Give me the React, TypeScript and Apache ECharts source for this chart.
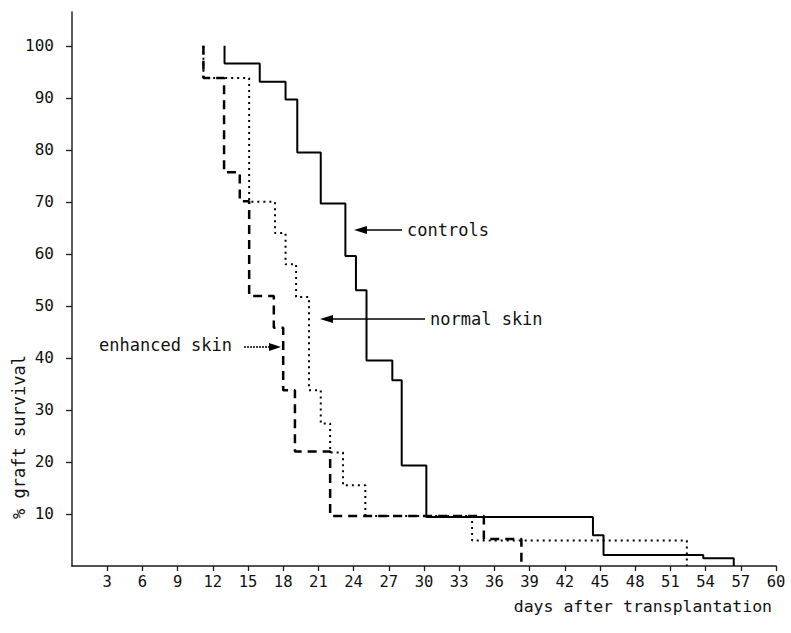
import React, { useEffect, useRef } from "react";
import * as echarts from "echarts";

// Kaplan-Meier style graft survival curves
const controlsDays = [13, 13, 16, 18.2, 19.2, 21.2, 23.3, 24.2, 25.1, 27.3, 28.1, 30.2, 44.4, 45.3, 53.8, 56.4];
const controlsSurvival = [100, 96.6, 93.1, 89.7, 79.5, 69.7, 59.6, 53, 39.5, 35.7, 19.3, 9.4, 5.9, 2.1, 1.5, 0];

const normalDays = [11.2, 11.2, 15.1, 17.3, 18.2, 19.1, 20.2, 21.2, 22, 23.1, 25, 34.1, 52.4];
const normalSurvival = [100, 93.8, 70, 64, 58, 51.7, 33.8, 27.4, 21.8, 15.5, 9.6, 4.9, 0];

const enhancedDays = [11.2, 11.2, 12.96, 14.3, 15.1, 17.2, 18, 19, 22, 35.1, 38.3];
const enhancedSurvival = [100, 93.8, 75.7, 70.1, 51.9, 45.8, 33.8, 22, 9.6, 5.2, 0];

const xTickValues = [3, 6, 9, 12, 15, 18, 21, 24, 27, 30, 33, 36, 39, 42, 45, 48, 51, 54, 57, 60];
const yTickValues = [10, 20, 30, 40, 50, 60, 70, 80, 90, 100];

const MONO = '"DejaVu Sans Mono", monospace';

export default function App() {
  const ref = useRef<HTMLDivElement>(null);

  useEffect(() => {
    if (!ref.current) return;
    const chart = echarts.init(ref.current, undefined, { renderer: "svg" });
    const pairs = (xs: number[], ys: number[]) => xs.map((x, i) => [x, ys[i]]);

    chart.setOption({
      animation: false,
      backgroundColor: "#fff",
      grid: { left: 72, right: 15, top: 12, bottom: 67 },
      xAxis: {
        type: "value",
        min: 0,
        max: 60,
        interval: 3,
        splitLine: { show: false },
        axisLine: { show: true, onZero: true, lineStyle: { color: "#1a1a1a", width: 1.6 } },
        axisTick: { show: true, length: 5, customValues: xTickValues, lineStyle: { color: "#1a1a1a", width: 1.3 } },
        axisLabel: { customValues: xTickValues, color: "#111", fontFamily: MONO, fontSize: 15.5, margin: 8 },
      },
      yAxis: {
        type: "value",
        min: 0,
        max: 106.5,
        interval: 10,
        splitLine: { show: false },
        axisLine: { show: true, lineStyle: { color: "#333", width: 1.6 } },
        axisTick: { show: true, length: 6, customValues: yTickValues, lineStyle: { color: "#1a1a1a", width: 1.3 } },
        axisLabel: { customValues: yTickValues, color: "#111", fontFamily: MONO, fontSize: 16, margin: 18 },
      },
      series: [
        {
          name: "normal skin",
          type: "line",
          step: "end",
          symbol: "none",
          data: pairs(normalDays, normalSurvival),
          lineStyle: { color: "#000", width: 2, type: [2, 4], cap: "butt" },
        },
        {
          name: "enhanced skin",
          type: "line",
          step: "end",
          symbol: "none",
          data: pairs(enhancedDays, enhancedSurvival),
          lineStyle: { color: "#000", width: 2.5, type: [9, 6], cap: "butt" },
        },
        {
          name: "controls",
          type: "line",
          step: "end",
          symbol: "none",
          data: pairs(controlsDays, controlsSurvival),
          lineStyle: { color: "#000", width: 2 },
        },
      ],
      graphic: [
        // y-axis title
        {
          type: "text",
          x: 19,
          y: 437,
          rotation: Math.PI / 2,
          style: { text: "% graft survival", fill: "#111", font: `17px ${MONO}`, align: "center", verticalAlign: "middle" },
        },
        // x-axis title
        {
          type: "text",
          x: 772,
          y: 606,
          style: { text: "days after transplantation", fill: "#111", font: `16.5px ${MONO}`, align: "right", verticalAlign: "middle" },
        },
        // controls annotation
        { type: "line", shape: { x1: 402, y1: 230, x2: 362, y2: 230 }, style: { stroke: "#000", lineWidth: 1.6 } },
        { type: "polygon", shape: { points: [[354, 230], [367, 226], [367, 234]] }, style: { fill: "#000" } },
        { type: "text", x: 407, y: 230, style: { text: "controls", fill: "#111", font: `17px ${MONO}`, align: "left", verticalAlign: "middle" } },
        // normal skin annotation
        { type: "line", shape: { x1: 425, y1: 319, x2: 328, y2: 319 }, style: { stroke: "#000", lineWidth: 1.6 } },
        { type: "polygon", shape: { points: [[320, 319], [333, 315], [333, 323]] }, style: { fill: "#000" } },
        { type: "text", x: 430, y: 319, style: { text: "normal skin", fill: "#111", font: `17px ${MONO}`, align: "left", verticalAlign: "middle" } },
        // enhanced skin annotation
        { type: "line", shape: { x1: 244, y1: 347, x2: 272, y2: 347 }, style: { stroke: "#000", lineWidth: 1.3, lineDash: [2, 1] } },
        { type: "polygon", shape: { points: [[281, 347], [269, 343], [269, 351]] }, style: { fill: "#000" } },
        { type: "text", x: 99, y: 345, style: { text: "enhanced skin", fill: "#111", font: `17px ${MONO}`, align: "left", verticalAlign: "middle" } },
      ],
    });

    return () => chart.dispose();
  }, []);

  return (
    <div
      ref={ref}
      style={{ position: "fixed", left: 0, top: 0, width: 791, height: 633, background: "#fff" }}
    />
  );
}
